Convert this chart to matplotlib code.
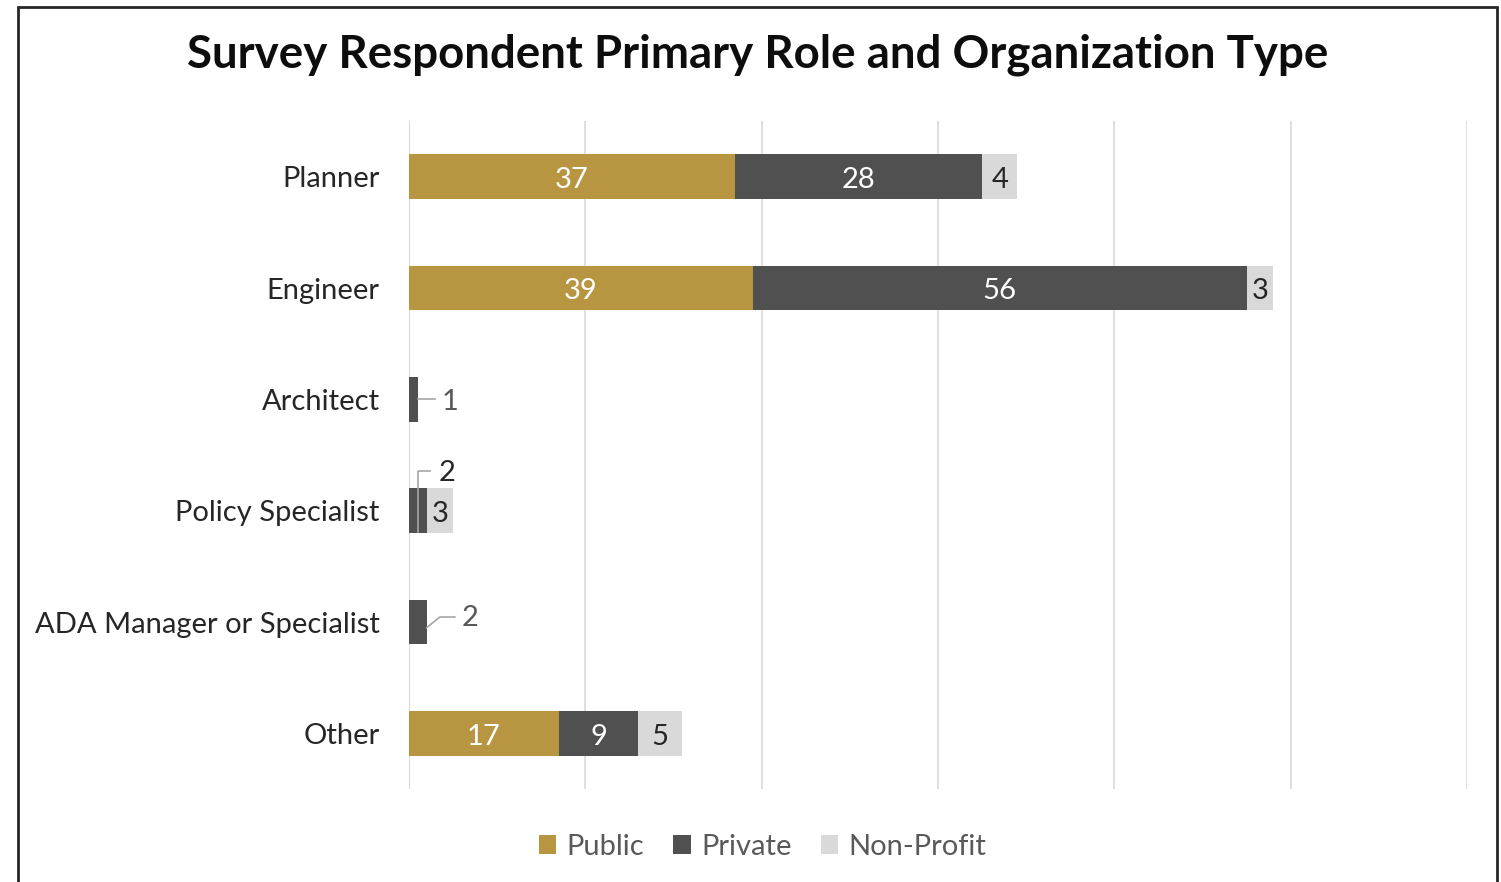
import matplotlib.pyplot as plt
from matplotlib.patches import Rectangle
import numpy as np

plt.rcParams['font.family'] = ['Lato', 'DejaVu Sans']

roles = ['Planner', 'Engineer', 'Architect', 'Policy Specialist',
         'ADA Manager or Specialist', 'Other']
public = [37, 39, 0, 0, 0, 17]
private = [28, 56, 1, 2, 2, 9]
nonprofit = [4, 3, 0, 3, 0, 5]
series = ['Public', 'Private', 'Non-Profit']
colors = ['#B89641', '#505050', '#D9D9D9']

fs = 21

fig = plt.figure(figsize=(15.01, 8.82), dpi=100)
ax = fig.add_axes([0.2725, 0.1054, 0.7048, 0.7574])

y = np.arange(len(roles))
left = np.zeros(len(roles))
bars = []
for vals, name, c in zip([public, private, nonprofit], series, colors):
    b = ax.barh(y, vals, left=left, height=0.4, color=c, label=name, zorder=3)
    bars.append((b, vals, left.copy()))
    left = left + np.array(vals)

# value labels inside the wide segments
for (b, vals, lft), c in zip(bars, colors):
    txt = 'white' if c != '#D9D9D9' else '#262626'
    for i, v in enumerate(vals):
        if v >= 3:
            ax.text(lft[i] + v / 2, i + 0.03, str(v), ha='center', va='center',
                    fontsize=fs, color=txt, zorder=4)

# callouts for the thin segments
lc = '#A6A6A6'
arch = roles.index('Architect')
ax.plot([private[arch], private[arch] + 1.9], [arch, arch], color=lc, lw=1.2, zorder=4)
ax.text(4.7, arch + 0.02, str(private[arch]), ha='center', va='center', fontsize=fs, color='#595959')

pol = roles.index('Policy Specialist')
ax.plot([1.0, 1.0, 2.4], [pol + 0.19, pol - 0.36, pol - 0.36], color=lc, lw=1.2, zorder=4)
ax.text(4.3, pol - 0.34, str(private[pol]), ha='center', va='center', fontsize=fs, color='#262626')

ada = roles.index('ADA Manager or Specialist')
ax.plot([private[ada], 3.5, 5.2], [ada + 0.05, ada - 0.045, ada - 0.045], color=lc, lw=1.2, zorder=4)
ax.text(6.9, ada - 0.04, str(private[ada]), ha='center', va='center', fontsize=fs, color='#595959')

ax.set_xlim(0, 120)
ax.set_ylim(len(roles) - 0.5, -0.5)
ax.set_xticks(np.arange(0, 121, 20))
ax.set_xticklabels([])
ax.set_yticks(y)
ax.set_yticklabels(roles, fontsize=fs, color='#262626')
ax.tick_params(axis='both', length=0)
ax.tick_params(axis='y', pad=21)
ax.grid(axis='x', color='#D9D9D9', lw=1.2, zorder=0)
for s in ax.spines.values():
    s.set_visible(False)
ax.axvline(0, color='#D9D9D9', lw=1.5, zorder=2)

fig.text(0.5047, 1 - 55 / 882, 'Survey Respondent Primary Role and Organization Type',
         ha='center', va='center', fontsize=32.9, fontweight='bold', color='#0D0D0D')

fig.legend(loc='center', bbox_to_anchor=(0.508, 1 - 847 / 882), ncol=3, frameon=False,
           fontsize=fs, handlelength=0.6, handleheight=0.6, columnspacing=1.0,
           handletextpad=0.35, labelcolor='#595959')

fig.patches.append(Rectangle((18 / 1501, -0.05), 1479 / 1501, 1.05 - 7 / 882,
                             transform=fig.transFigure, fill=False,
                             edgecolor='#262626', lw=2))

fig.savefig('out.png', dpi=100)
